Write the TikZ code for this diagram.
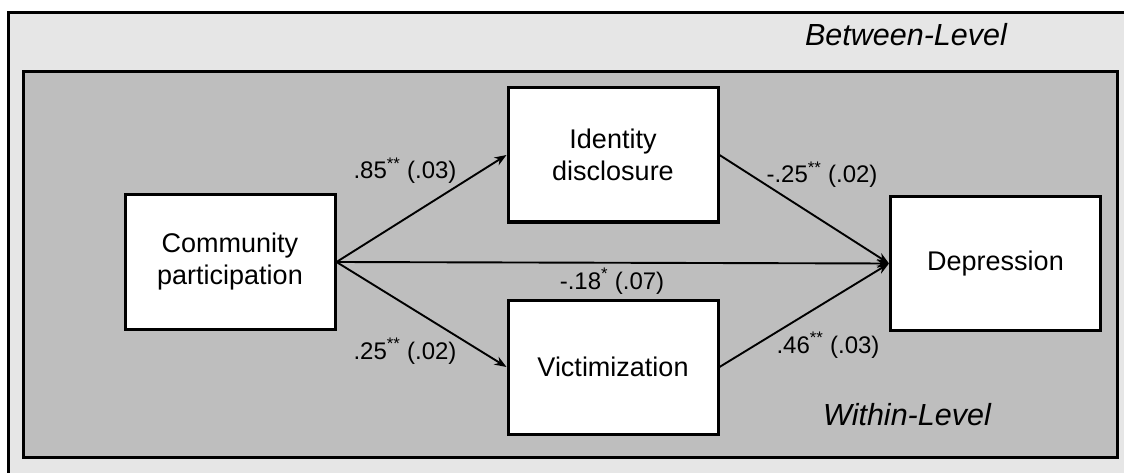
\documentclass[tikz,border=0pt]{standalone}
\usepackage{fontspec}
\setmainfont{Liberation Sans}
\usetikzlibrary{arrows.meta}
\begin{document}
\begin{tikzpicture}[x=1pt,y=-1pt,
  varbox/.style={draw=black,line width=3pt,fill=white,minimum width=210pt,minimum height=134pt,
    inner sep=0pt,align=center,font=\fontsize{27}{32}\selectfont},
  path/.style={line width=1.9pt,-{Stealth[length=12pt,width=9pt]}},
  coef/.style={font=\fontsize{24}{27}\selectfont,anchor=base,inner sep=0pt},
  level/.style={font=\fontsize{30.5}{34}\selectfont\itshape,anchor=base,inner sep=0pt}]
\useasboundingbox (0,0) rectangle (1124,473);
\clip (0,0) rectangle (1124,473);
\fill[white] (0,0) rectangle (1124,473);
\draw[line width=3pt,fill={rgb,255:red,230;green,230;blue,230}] (8,13) rectangle (1140,490);
\draw[line width=3pt,fill={rgb,255:red,190;green,190;blue,190}] (23,72) rectangle (1117,457);
\node[level] (between) at (906,46) {Between-Level};
\node[level] (within) at (907,425) {Within-Level};
\node[varbox] (cp) at (230,262) {Community\\participation};
\node[varbox] (id) at (613,155) {Identity\\disclosure};
\node[varbox] (vi) at (613,367) {Victimization};
\node[varbox] (de) at (995.5,263.5) {Depression};
\draw[path] (cp.east) -- (id.west);
\draw[path] (cp.east) -- (vi.west);
\draw[path] (cp.east) -- (de.west);
\draw[path] (id.east) -- (de.west);
\draw[path] (vi.east) -- (de.west);
\node[coef] (l1) at (405,179) {.85\textsuperscript{**} (.03)};
\node[coef] (l2) at (612,289) {-.18\textsuperscript{*} (.07)};
\node[coef] (l3) at (405,359) {.25\textsuperscript{**} (.02)};
\node[coef] (l4) at (822,183) {-.25\textsuperscript{**} (.02)};
\node[coef] (l5) at (828,353) {.46\textsuperscript{**} (.03)};
\end{tikzpicture}
\end{document}
